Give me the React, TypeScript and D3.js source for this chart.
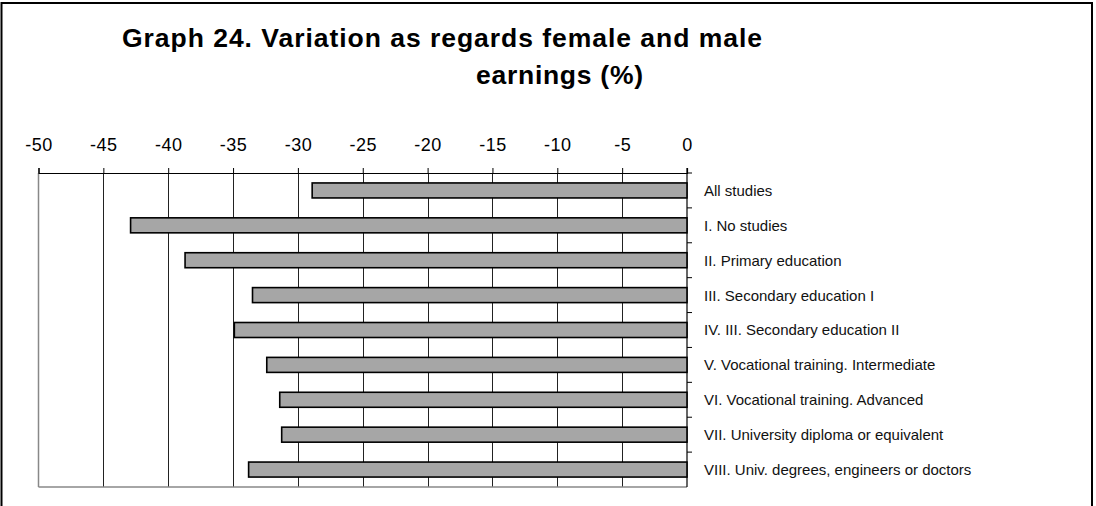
import React, { useEffect, useRef } from "react";
import * as d3 from "d3";

const categories = [
  "All studies",
  "I. No studies",
  "II. Primary education",
  "III. Secondary education I",
  "IV. III. Secondary education II",
  "V. Vocational training. Intermediate",
  "VI. Vocational training. Advanced",
  "VII. University diploma or equivalent",
  "VIII. Univ. degrees, engineers or doctors",
];

const variation = [-28.9, -42.9, -38.7, -33.5, -34.9, -32.4, -31.4, -31.25, -33.8];

const xTicks = [-50, -45, -40, -35, -30, -25, -20, -15, -10, -5, 0];

const titleLines = ["Graph 24. Variation as regards female and male", "earnings (%)"];

const FONT = "'Liberation Sans', Arial, sans-serif";

const App = () => {
  const svgRef = useRef<SVGSVGElement>(null);
  const width = 1096;
  const height = 506;
  const plot = { left: 38.5, right: 687, top: 173, bottom: 487 };

  useEffect(() => {
    const svg = d3.select(svgRef.current);
    svg.selectAll("*").remove();

    // outer frame
    svg
      .append("rect")
      .attr("x", 1.5)
      .attr("y", 3)
      .attr("width", 1090.5)
      .attr("height", 540)
      .attr("fill", "#fff")
      .attr("stroke", "#000")
      .attr("stroke-width", 2);

    // title
    svg
      .append("text")
      .attr("x", 122)
      .attr("y", 47)
      .attr("textLength", 640)
      .attr("lengthAdjust", "spacing")
      .style("font-family", FONT)
      .style("font-size", "26.5px")
      .style("font-weight", "bold")
      .text(titleLines[0]);
    svg
      .append("text")
      .attr("x", 476)
      .attr("y", 84)
      .attr("textLength", 167)
      .attr("lengthAdjust", "spacing")
      .style("font-family", FONT)
      .style("font-size", "26.5px")
      .style("font-weight", "bold")
      .text(titleLines[1]);

    const x = d3.scaleLinear().domain([-50, 0]).range([plot.left, plot.right]);
    const y = d3
      .scaleBand()
      .domain(categories)
      .range([plot.top, plot.bottom])
      .padding(0);

    const g = svg.append("g");

    // gridlines
    g.append("g")
      .selectAll("line")
      .data(xTicks.slice(1, -1))
      .join("line")
      .attr("x1", (d) => Math.round(x(d)) + 0.5)
      .attr("x2", (d) => Math.round(x(d)) + 0.5)
      .attr("y1", plot.top)
      .attr("y2", plot.bottom)
      .attr("stroke", "#222")
      .attr("stroke-width", 1);

    // plot area left / bottom edges
    g.append("line")
      .attr("x1", plot.left)
      .attr("x2", plot.left)
      .attr("y1", plot.top)
      .attr("y2", plot.bottom)
      .attr("stroke", "#888")
      .attr("stroke-width", 1.5);
    g.append("line")
      .attr("x1", plot.left)
      .attr("x2", plot.right)
      .attr("y1", plot.bottom)
      .attr("y2", plot.bottom)
      .attr("stroke", "#888")
      .attr("stroke-width", 1.5);

    // top axis
    const axis = g
      .append("g")
      .attr("transform", `translate(0,${plot.top})`)
      .call(
        d3
          .axisTop(x)
          .tickValues(xTicks)
          .tickSize(5)
          .tickPadding(17)
          .tickFormat(d3.format("d"))
      );
    axis.select(".domain").attr("stroke", "#000").attr("stroke-width", 1.2);
    axis.selectAll(".tick line").attr("stroke", "#000");
    axis
      .selectAll(".tick text")
      .style("font-family", FONT)
      .style("font-size", "18px")
      .style("letter-spacing", "0.5px")
      .attr("fill", "#000")
      .text((d: any) => String(d).replace("−", "-"));

    // right axis at zero with ticks at band boundaries
    g.append("line")
      .attr("x1", x(0))
      .attr("x2", x(0))
      .attr("y1", plot.top - 5)
      .attr("y2", plot.bottom)
      .attr("stroke", "#000")
      .attr("stroke-width", 1.2);
    g.append("g")
      .selectAll("line")
      .data(categories)
      .join("line")
      .attr("x1", x(0))
      .attr("x2", x(0) + 5)
      .attr("y1", (d) => y(d)!)
      .attr("y2", (d) => y(d)!)
      .attr("stroke", "#000");

    // bars
    const barH = y.bandwidth() * 0.43;
    g.append("g")
      .selectAll("rect")
      .data(categories)
      .join("rect")
      .attr("x", (d, i) => x(variation[i]))
      .attr("y", (d) => y(d)! + (y.bandwidth() - barH) / 2)
      .attr("width", (d, i) => x(0) - x(variation[i]))
      .attr("height", barH)
      .attr("fill", "#a6a6a6")
      .attr("stroke", "#000")
      .attr("stroke-width", 1.6);

    // category labels
    g.append("g")
      .selectAll("text")
      .data(categories)
      .join("text")
      .attr("x", 704)
      .attr("y", (d) => y(d)! + y.bandwidth() / 2)
      .attr("dy", "0.36em")
      .style("font-family", FONT)
      .style("font-size", "15px")
      .attr("fill", "#111")
      .text((d) => d);
  }, []);

  return (
    <svg
      ref={svgRef}
      width={width}
      height={height}
      style={{ position: "absolute", left: 0, top: 0, background: "#fff" }}
    />
  );
};

export default App;
